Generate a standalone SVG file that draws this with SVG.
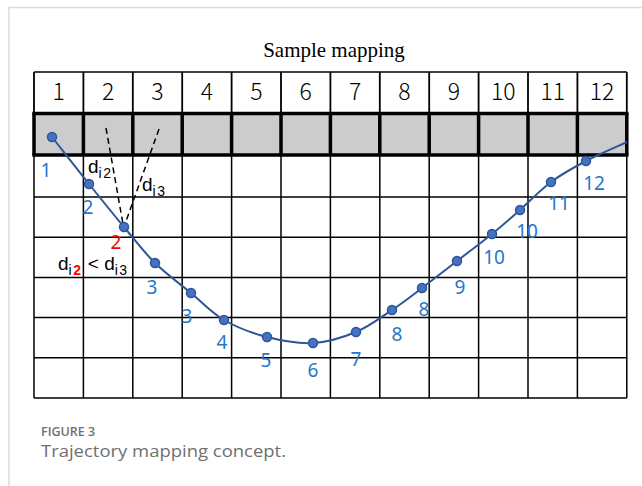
<svg xmlns="http://www.w3.org/2000/svg" width="642" height="486" viewBox="0 0 642 486">
<style>
.thin{stroke:#000;stroke-width:1.5;fill:none}
.hdr{stroke:#000;stroke-width:1.8;fill:none}
.thick{stroke:#000;stroke-width:3.5;fill:none}
.num{font-family:"Noto Sans CJK JP","Noto Sans",sans-serif;font-weight:300;font-size:23px;fill:#000;text-anchor:middle}
.lbl{font-family:"Noto Sans","Liberation Sans",sans-serif;font-size:19px;fill:#2577c8;text-anchor:middle}
.red{fill:#ff0000}
.d{font-family:"Liberation Sans",sans-serif;font-size:19px;fill:#000}
.sub{font-size:14px;letter-spacing:1.5px}
.dot{fill:#4472c4;stroke:#2f5597;stroke-width:1.5}
.dash{stroke:#000;stroke-width:1.5;stroke-dasharray:6 4;fill:none}
</style>
<rect width="642" height="486" fill="#fff"/>
<path d="M9,486 V7.5 H642" fill="none" stroke="#dcdcdc" stroke-width="1.5"/>
<g id="title">
<text x="334" y="57" font-family="Liberation Serif,serif" font-size="21" text-anchor="middle" fill="#000">Sample mapping</text>
</g>
<g id="grid">
<rect x="34" y="113.5" width="592.8" height="41.5" fill="#cccccc"/>
<path class="thin" d="M34,72H626.8 M34,197H626.8 M34,237.2H626.8 M34,277.4H626.8 M34,317.6H626.8 M34,357.8H626.8 M34,398H626.8"/>
<path class="hdr" d="M34,72V113.5 M83.4,72V113.5 M132.8,72V113.5 M182.2,72V113.5 M231.6,72V113.5 M281,72V113.5 M330.4,72V113.5 M379.8,72V113.5 M429.2,72V113.5 M478.6,72V113.5 M528,72V113.5 M577.4,72V113.5 M626.8,72V113.5"/>
<path class="thin" d="M34,155V398 M83.4,155V398 M132.8,155V398 M182.2,155V398 M231.6,155V398 M281,155V398 M330.4,155V398 M379.8,155V398 M429.2,155V398 M478.6,155V398 M528,155V398 M577.4,155V398 M626.8,155V398"/>
<path class="thick" d="M34,113.5V155 M83.4,113.5V155 M132.8,113.5V155 M182.2,113.5V155 M231.6,113.5V155 M281,113.5V155 M330.4,113.5V155 M379.8,113.5V155 M429.2,113.5V155 M478.6,113.5V155 M528,113.5V155 M577.4,113.5V155 M626.8,113.5V155"/>
<path class="thick" d="M32.3,113.5H628.5 M32.3,155H628.5"/>
</g>
<g id="header-numbers">
<text class="num" x="58.7" y="100">1</text>
<text class="num" x="108.1" y="100">2</text>
<text class="num" x="157.5" y="100">3</text>
<text class="num" x="206.9" y="100">4</text>
<text class="num" x="256.3" y="100">5</text>
<text class="num" x="305.7" y="100">6</text>
<text class="num" x="355.1" y="100">7</text>
<text class="num" x="404.5" y="100">8</text>
<text class="num" x="453.9" y="100">9</text>
<text class="num" x="503.3" y="100">10</text>
<text class="num" x="552.7" y="100">11</text>
<text class="num" x="602.1" y="100">12</text>
</g>
<g id="connectors">
<path class="dash" d="M106,128 L123,224"/>
<path class="dash" d="M159,129 L125,224"/>
<path d="M52,137 C58.2,144.8 77,169 89,184 C101,199 113,213.8 124,227 C135,240.2 143.8,252 155,263 C166.2,274 179.5,283.5 191,293 C202.5,302.5 211.3,312.7 224,320 C236.7,327.3 252.2,333.2 267,337 C281.8,340.8 298.2,343.8 313,343 C327.8,342.2 342.8,337.5 356,332 C369.2,326.5 381,317.3 392,310 C403,302.7 411.2,296.2 422,288 C432.8,279.8 445.3,270 457,261 C468.7,252 481.5,242.5 492,234 C502.5,225.5 510.2,218.7 520,210 C529.8,201.3 540,190.2 551,182 C562,173.8 573.3,167.7 586,161 C598.7,154.3 620.2,145.2 627,142" fill="none" stroke="#2f5597" stroke-width="2"/>
</g>
<g id="points">
<circle class="dot" cx="52" cy="137" r="4.5"/>
<circle class="dot" cx="89" cy="184" r="4.5"/>
<circle class="dot" cx="124" cy="227" r="4.5"/>
<circle class="dot" cx="155" cy="263" r="4.5"/>
<circle class="dot" cx="191" cy="293" r="4.5"/>
<circle class="dot" cx="224" cy="320" r="4.5"/>
<circle class="dot" cx="267" cy="337" r="4.5"/>
<circle class="dot" cx="313" cy="343" r="4.5"/>
<circle class="dot" cx="356" cy="332" r="4.5"/>
<circle class="dot" cx="392" cy="310" r="4.5"/>
<circle class="dot" cx="422" cy="288" r="4.5"/>
<circle class="dot" cx="457" cy="261" r="4.5"/>
<circle class="dot" cx="492" cy="234" r="4.5"/>
<circle class="dot" cx="520" cy="210" r="4.5"/>
<circle class="dot" cx="551" cy="182" r="4.5"/>
<circle class="dot" cx="586" cy="161" r="4.5"/>
</g>
<g id="point-labels">
<text class="lbl" x="46" y="177">1</text>
<text class="lbl" x="88" y="214">2</text>
<text class="lbl red" x="116" y="249" font-family="Liberation Sans,sans-serif">2</text>
<text class="lbl" x="152" y="294">3</text>
<text class="lbl" x="187" y="323">3</text>
<text class="lbl" x="222" y="349">4</text>
<text class="lbl" x="266" y="367">5</text>
<text class="lbl" x="313" y="377">6</text>
<text class="lbl" x="356" y="366">7</text>
<text class="lbl" x="397" y="341">8</text>
<text class="lbl" x="424" y="316">8</text>
<text class="lbl" x="460" y="294">9</text>
<text class="lbl" x="494" y="264">10</text>
<text class="lbl" x="527" y="238">10</text>
<text class="lbl" x="559" y="210">11</text>
<text class="lbl" x="594" y="190">12</text>
</g>
<g id="distance-labels">
<text class="d" x="88" y="173">d<tspan class="sub" dy="5">i2</tspan></text>
<text class="d" x="142" y="191">d<tspan class="sub" dy="5">i3</tspan></text>
<text class="d" x="58" y="270">d<tspan class="sub" dy="5">i</tspan><tspan class="sub red" font-weight="bold">2</tspan><tspan dy="-5"> &lt; d</tspan><tspan class="sub" dy="5">i3</tspan></text>
</g>
<g id="caption">
<text x="41" y="436" font-family="Open Sans,sans-serif" font-weight="600" font-size="12.5" fill="#6f6f6f">FIGURE 3</text>
<text x="41" y="457" font-family="Open Sans,sans-serif" font-size="16" fill="#6f6f6f" textLength="245" lengthAdjust="spacingAndGlyphs">Trajectory mapping concept.</text>
</g>
</svg>
